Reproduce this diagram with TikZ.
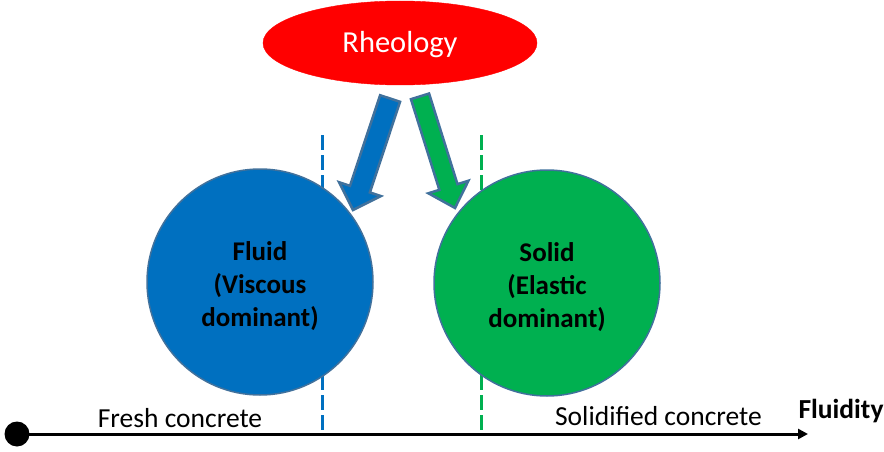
\documentclass[tikz,border=0pt]{standalone}
\usepackage{fontspec}
\setmainfont{Carlito}
\usetikzlibrary{arrows.meta,shapes.geometric}
\definecolor{pblue}{HTML}{0070C0}
\definecolor{pgreen}{HTML}{00B050}
\definecolor{outl}{HTML}{41719C}
\begin{document}
\begin{tikzpicture}[x=1pt,y=1pt,
  circ/.style={circle, draw=outl, line width=1.5pt, minimum size=226pt, inner sep=0pt},
  circtext/.style={font=\fontsize{27}{33}\selectfont\bfseries, align=center, text=black, inner sep=0pt},
  lbl/.style={font=\fontsize{27.5}{32}\selectfont, anchor=base, inner sep=0pt},
  dashln/.style={line width=3pt, dash pattern=on 15pt off 5pt},
  blockarrow/.style={draw=outl, line width=2.5pt, line join=miter}]
\useasboundingbox (0,0) rectangle (884,451);
% dashed separators (behind circles)
\coordinate (bd1) at (322,316);
\coordinate (bd2) at (322,16);
\coordinate (gd1) at (481,316);
\coordinate (gd2) at (481,19);
\draw[dashln, pblue] (bd1) -- (bd2);
\draw[dashln, pgreen] (gd1) -- (gd2);
% top ellipse
\node[ellipse, draw=red, fill=red, minimum width=274pt, minimum height=84pt, inner sep=0pt,
  text=white, font=\fontsize{30.5}{36}\selectfont, text height=20pt, text depth=0pt] (rheo) at (400,408) {Rheology};
% circles
\node[circ, fill=pblue] (fluid) at (260,169) {};
\node[circtext] (fluidtxt) at ([yshift=-4pt]fluid.center) {Fluid\\(Viscous\\dominant)};
\node[circ, fill=pgreen] (solid) at (547,168) {};
\node[circtext] (solidtxt) at ([yshift=-4pt]solid.center) {Solid\\(Elastic\\dominant)};
% block arrows
\begin{scope}[shift={(353,241)}, rotate=-108.4]
\draw[blockarrow, fill=pblue] (0,0) -- (-22,22) -- (-22,10.5) -- (-117.5,10.5) -- (-117.5,-10.5) -- (-22,-10.5) -- (-22,-22) -- cycle;
\end{scope}
\begin{scope}[shift={(455,243)}, rotate=-72.6]
\draw[blockarrow, fill=pgreen] (0,0) -- (-22,21) -- (-22,9.5) -- (-117,9.5) -- (-117,-9.5) -- (-22,-9.5) -- (-22,-21) -- cycle;
\end{scope}
% axis
\node[circle, fill=black, minimum size=25pt, inner sep=0pt] (dot) at (17,17) {};
\coordinate (axend) at (808,17);
\draw[line width=3pt, -{Triangle[length=10pt, width=10pt]}] (dot.center) -- (axend);
% labels
\node[lbl] (fresh) at (180,24) {Fresh concrete};
\node[lbl] (solidified) at (658.5,26) {Solidified concrete};
\node[lbl, font=\fontsize{27.5}{32}\selectfont\bfseries] (fluidity) at (841,33) {Fluidity};
\end{tikzpicture}
\end{document}
